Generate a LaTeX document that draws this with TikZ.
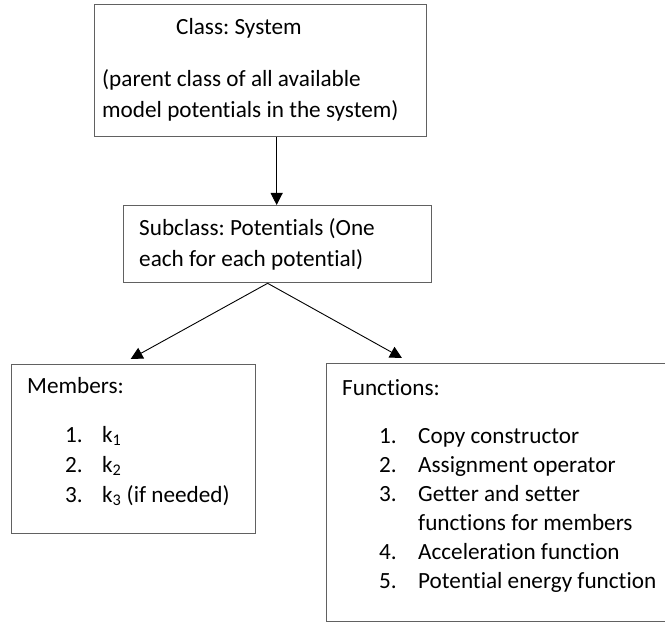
\documentclass[tikz,border=0pt]{standalone}
\usepackage{fontspec}
\setmainfont{Carlito}[Ligatures={NoCommon}]
\usetikzlibrary{arrows.meta,calc}
\frenchspacing

\begin{document}
\begin{tikzpicture}[x=1pt,y=-1pt,
  box/.style={draw=black!62,line width=1.3pt,rectangle,inner sep=0pt,anchor=north west},
  txt/.style={anchor=base west,inner sep=0pt,font=\fontsize{23.2}{28}\selectfont},
  link/.style={draw=black,line width=0.9pt},
  tip/.style={-{Triangle[width=12pt,length=12pt]}}
]
\useasboundingbox (0,0) rectangle (665,623);

% class boxes
\node[box,minimum width=332pt,minimum height=132pt] (sys) at (94,4) {};
\node[box,minimum width=308pt,minimum height=77pt]  (sub) at (123,205) {};
\node[box,minimum width=244pt,minimum height=169pt] (mem) at (11,364) {};
\node[box,minimum width=345pt,minimum height=258pt] (fun) at (326,363) {};

% box texts
\node[txt] (sysT) at (176,35) {Class: System};
\node[txt] (sysA) at (102,87) {(parent class of all available};
\node[txt] (sysB) at (102,118) {model potentials in the system)};

\node[txt] (subA) at (139,236) {Subclass: Potentials (One};
\node[txt] (subB) at (139,266) {each for each potential)};

\node[txt] (memT) at (27,393) {Members:};
\node[txt] (m1) at (65,442) {\makebox[37pt][l]{1.}k\textsubscript{1}};
\node[txt] (m2) at (65,472) {\makebox[37pt][l]{2.}k\textsubscript{2}};
\node[txt] (m3) at (65,502) {\makebox[37pt][l]{3.}k\textsubscript{3} (if needed)};

\node[txt] (funT) at (342,395) {Functions:};
\node[txt] (f1) at (379,443) {\makebox[39pt][l]{1.}Copy constructor};
\node[txt] (f2) at (379,472) {\makebox[39pt][l]{2.}Assignment operator};
\node[txt] (f3) at (379,501) {\makebox[39pt][l]{3.}Getter and setter};
\node[txt] (f3b) at (418,530) {functions for members};
\node[txt] (f4) at (379,559) {\makebox[39pt][l]{4.}Acceleration function};
\node[txt] (f5) at (379,588) {\makebox[39pt][l]{5.}Potential energy function};

% connectors
\coordinate (down) at ($(sys.south)+(16,0)$);
\coordinate (split) at ($(sub.south)+(-10,0)$);
\coordinate (memIn) at ($(mem.north)+(-3,-5)$);
\coordinate (funIn) at ($(fun.north west)+(76,-5)$);
\draw[link,tip] (down) -- (down |- sub.north);
\draw[link,tip] (split) -- (memIn);
\draw[link,tip] (split) -- (funIn);
\end{tikzpicture}
\end{document}
